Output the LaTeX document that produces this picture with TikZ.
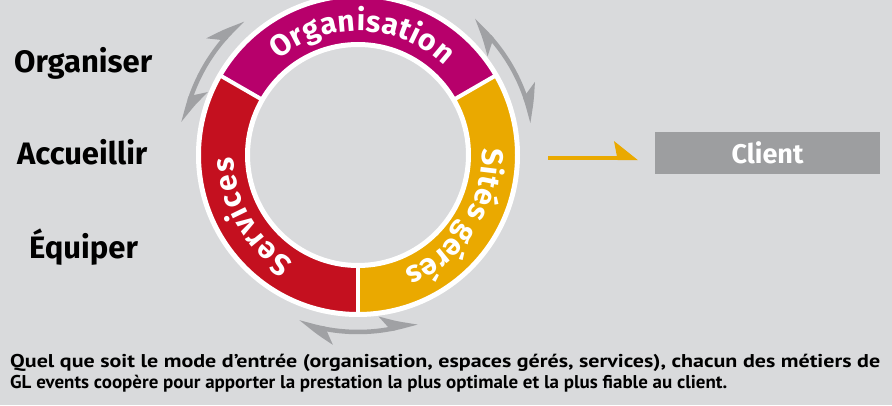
\documentclass[tikz,border=0pt]{standalone}
\usepackage{fontspec}
\setmainfont{Fira Sans}
\newfontfamily\ptsans{PT Sans}
\usetikzlibrary{arrows.meta,decorations.text,bending}
\definecolor{bggray}{HTML}{D9DADC}
\definecolor{magentaorg}{HTML}{B7006B}
\definecolor{redserv}{HTML}{C4101F}
\definecolor{yellowsite}{HTML}{EAA900}
\definecolor{arrowgray}{HTML}{A0A1A4}
\definecolor{clientgray}{HTML}{9D9EA0}
\tikzset{
  sidelabel/.style={anchor=base west, inner sep=0pt, font=\fontsize{31}{31}\selectfont\bfseries, text=black},
  cyclearrow/.style={draw=arrowgray, line width=4.5pt,
    {Stealth[harpoon,length=32pt,width=28pt,inset=9pt,bend]}-{Stealth[harpoon,length=32pt,width=28pt,inset=9pt,bend]}},
  clientbox/.style={fill=clientgray, minimum width=225pt, minimum height=42pt, inner sep=0pt,
    text=white, font=\fontsize{27}{27}\selectfont\bfseries},
  orangearrow/.style={draw=yellowsite, line width=4.3pt, -{Stealth[harpoon,length=21pt,width=33pt,inset=3pt]}},
  bottomtext/.style={anchor=base west, inner sep=0pt, font=\ptsans\fontsize{18.5}{18.5}\selectfont\bfseries, text=black},
  ringtext/.style={decorate, decoration={text along path, text align={fit to path}, text={|\fontsize{30}{30}\selectfont\bfseries\color{white}|#1}}}
}
\begin{document}
\begin{tikzpicture}[x=1pt,y=1pt]
\fill[bggray] (0,0) rectangle (892,405);
\useasboundingbox (0,0) rectangle (892,405);

\begin{scope}[shift={(358,250)}]
  % sectors
  \fill[magentaorg] (30:110.5) arc[start angle=30,end angle=150,radius=110.5] -- (150:159.5) arc[start angle=150,end angle=30,radius=159.5] -- cycle;
  \fill[redserv] (150:110.5) arc[start angle=150,end angle=270,radius=110.5] -- (270:159.5) arc[start angle=270,end angle=150,radius=159.5] -- cycle;
  \fill[yellowsite] (270:110.5) arc[start angle=270,end angle=390,radius=110.5] -- (390:159.5) arc[start angle=390,end angle=270,radius=159.5] -- cycle;
  % white borders
  \draw[white, line width=5pt] (0,0) circle[radius=110.5];
  \draw[white, line width=5pt] (0,0) circle[radius=159.5];
  \foreach \a in {30,150,270} \draw[white, line width=4pt] (\a:110.5) -- (\a:159.5);
  % ring texts
  \path[ringtext=Organisation] (130:124) arc[start angle=130,end angle=46,radius=124];
  \path[ringtext=Services] (239:124) arc[start angle=239,end angle=181,radius=124];
  \path[ringtext={Sités gérés}] (3:124) arc[start angle=3,end angle=-68,radius=124];
  % cycle arrows
  \draw[cyclearrow] (169.5:177) arc[start angle=169.5,end angle=130.5,radius=177];
  \draw[cyclearrow] (49.5:177) arc[start angle=49.5,end angle=10.5,radius=177];
  \draw[cyclearrow] (289.5:177) arc[start angle=289.5,end angle=250.5,radius=177];
\end{scope}

\node[sidelabel] (organiser) at (14,332) {Organiser};
\node[sidelabel] (accueillir) at (17,240) {Accueillir};
\node[sidelabel] (equiper) at (29,147) {Équiper};

\node[clientbox] (client) at (767.5,252) {Client};
\coordinate (arrowstart) at (548,247);
\coordinate (arrowend) at (638,247);
\draw[orangearrow] (arrowstart) -- (arrowend);

\node[bottomtext] (line1) at (10,38) {\resizebox{870pt}{\height}{Quel que soit le mode d’entrée (organisation, espaces gérés, services), chacun des métiers de}};
\node[bottomtext] (line2) at (10,17) {\resizebox{717pt}{\height}{GL events coopère pour apporter la prestation la plus optimale et la plus fiable au client.}};
\end{tikzpicture}
\end{document}
